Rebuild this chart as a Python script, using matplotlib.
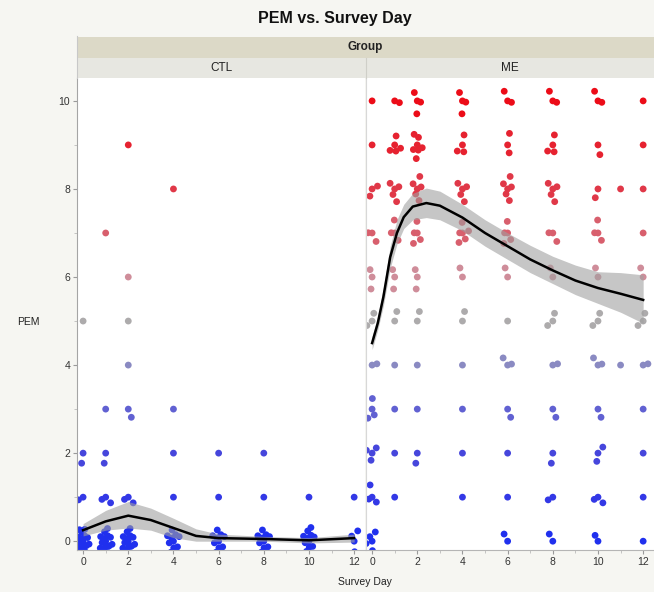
import matplotlib
matplotlib.use('Agg')

import numpy as np
import matplotlib.pyplot as plt
from matplotlib.colors import LinearSegmentedColormap
from matplotlib.patches import Rectangle
from matplotlib.lines import Line2D

plt.rcParams['font.family'] = ['Liberation Sans', 'DejaVu Sans']

# --- data ----------------------------------------------------------------
pem_levels = [0, 1, 2, 3, 4, 5, 6, 7, 8, 9, 10]

# counts of responses per survey day, one column per PEM level 0..10
ctl_days = [0, 1, 2, 4, 6, 8, 10, 12]
ctl_counts = [
    [16, 2, 2, 0, 0, 1, 0, 0, 0, 0, 0],
    [14, 3, 2, 1, 0, 0, 0, 1, 0, 0, 0],
    [14, 3, 0, 2, 1, 1, 1, 0, 0, 1, 0],
    [10, 1, 1, 1, 0, 0, 0, 0, 1, 0, 0],
    [10, 1, 1, 0, 0, 0, 0, 0, 0, 0, 0],
    [10, 1, 1, 0, 0, 0, 0, 0, 0, 0, 0],
    [12, 1, 0, 0, 0, 0, 0, 0, 0, 0, 0],
    [4, 1, 0, 0, 0, 0, 0, 0, 0, 0, 0],
]

me_days = [0, 1, 2, 4, 6, 8, 10, 11, 12]
me_counts = [
    [5, 4, 4, 4, 2, 3, 3, 3, 3, 1, 1],
    [0, 1, 1, 1, 1, 2, 3, 4, 5, 5, 2],
    [0, 0, 2, 1, 1, 2, 3, 5, 6, 7, 4],
    [0, 1, 1, 1, 1, 2, 2, 6, 5, 4, 4],
    [2, 1, 1, 2, 3, 1, 2, 5, 6, 3, 3],
    [2, 2, 2, 2, 2, 3, 2, 3, 5, 4, 3],
    [3, 3, 3, 2, 3, 3, 2, 4, 2, 2, 3],
    [0, 0, 0, 0, 1, 0, 0, 0, 1, 0, 0],
    [1, 1, 1, 1, 2, 3, 2, 1, 1, 1, 1],
]

# smoother fit and its confidence band
ctl_fit_x = [0, 1, 2, 3, 4, 5, 6, 8, 10, 12]
ctl_fit_y = [0.25, 0.45, 0.58, 0.48, 0.30, 0.12, 0.07, 0.05, 0.02, 0.07]
ctl_fit_lo = [0.12, 0.25, 0.30, 0.25, 0.08, 0.00, 0.00, 0.00, -0.04, -0.02]
ctl_fit_hi = [0.40, 0.70, 0.90, 0.75, 0.52, 0.28, 0.16, 0.11, 0.08, 0.16]

me_fit_x = [0, 0.25, 0.5, 0.8, 1.1, 1.4, 1.8, 2.4, 3, 4, 5, 6, 7, 8, 9, 10, 11, 12]
me_fit_y = [4.5, 4.95, 5.55, 6.45, 7.0, 7.36, 7.6, 7.68, 7.62, 7.35, 7.0,
            6.7, 6.4, 6.15, 5.92, 5.75, 5.62, 5.48]
me_fit_lo = [4.35, 4.8, 5.35, 6.2, 6.75, 7.1, 7.3, 7.35, 7.3, 7.05, 6.7,
             6.4, 6.1, 5.85, 5.6, 5.4, 5.2, 4.95]
me_fit_hi = [4.65, 5.1, 5.75, 6.7, 7.3, 7.65, 7.9, 8.02, 7.95, 7.65, 7.3,
             7.0, 6.72, 6.47, 6.27, 6.12, 6.1, 6.05]

# --- figure ---------------------------------------------------------------
W, H = 654, 592
fig = plt.figure(figsize=(W / 100, H / 100), dpi=100)
fig.patch.set_facecolor('#f6f6f2')

# JMP-like blue - gray - red gradient
pem_cmap = LinearSegmentedColormap.from_list('pem', [
    (0.0, '#2030ee'), (0.1, '#3338e6'), (0.2, '#4646dc'), (0.3, '#6262d2'),
    (0.4, '#8a8ac2'), (0.5, '#acacac'), (0.6, '#cf8d9a'), (0.7, '#d8606e'),
    (0.8, '#e03848'), (1.0, '#ec0c18')])


def px_box(x0, y0, x1, y1):
    # pixel box (top-left origin) -> figure fraction rect
    return [x0 / W, 1 - y1 / H, (x1 - x0) / W, (y1 - y0) / H]


def jitter_points(days, counts):
    xs, ys, cs = [], [], []
    golden = np.pi * (3 - np.sqrt(5))
    for day, row in zip(days, counts):
        for pem, n in zip(pem_levels, row):
            for i in range(n):
                r = np.sqrt(i / max(n, 1))
                th = i * golden + pem
                xs.append(day + 0.30 * r * np.cos(th))
                ys.append(pem + 0.34 * r * np.sin(th))
                cs.append(pem)
    return xs, ys, cs


def draw_panel(ax, days, counts, fx, fy, flo, fhi, show_y):
    ax.set_facecolor('white')
    xs, ys, cs = jitter_points(days, counts)
    ax.scatter(xs, ys, c=cs, cmap=pem_cmap, vmin=0, vmax=10, s=24,
               linewidths=0, zorder=2)
    ax.fill_between(fx, flo, fhi, color='#a0a0a0', alpha=0.6, lw=0, zorder=3)
    ax.plot(fx, fy, color='black', lw=1.8, zorder=4)

    ax.set_xlim(-0.27, 12.48)
    ax.set_ylim(-0.2, 10.52)
    ax.set_xticks(range(0, 13, 2))
    ax.set_xticks(range(1, 13, 2), minor=True)
    ax.set_yticks(range(0, 11, 2))
    ax.set_yticks(range(1, 11, 2), minor=True)
    ax.tick_params(axis='both', which='major', length=3, color='#9a9a9a',
                   labelsize=7.5, labelcolor='#333333', pad=2)
    ax.tick_params(axis='both', which='minor', length=2, color='#bbbbbb')
    for s in ['top', 'right']:
        ax.spines[s].set_visible(False)
    ax.spines['bottom'].set_color('#b5b5b5')
    if show_y:
        ax.spines['left'].set_color('#a5a5a5')
    else:
        ax.spines['left'].set_color('#d8d8d8')
        ax.tick_params(axis='y', which='both', left=False, labelleft=False)


ax_ctl = fig.add_axes(px_box(77, 78, 365, 550))
ax_me = fig.add_axes(px_box(366, 78, 654, 550))
draw_panel(ax_ctl, ctl_days, ctl_counts, ctl_fit_x, ctl_fit_y,
           ctl_fit_lo, ctl_fit_hi, True)
draw_panel(ax_me, me_days, me_counts, me_fit_x, me_fit_y,
           me_fit_lo, me_fit_hi, False)

# header strips
fig.patches.append(Rectangle((77 / W, 1 - 58 / H), (W - 77) / W, 21 / H,
                             transform=fig.transFigure, facecolor='#dcd9c7',
                             edgecolor='none'))
fig.patches.append(Rectangle((77 / W, 1 - 78 / H), (W - 77) / W, 20 / H,
                             transform=fig.transFigure, facecolor='#e7e7e1',
                             edgecolor='none'))
fig.lines.append(Line2D([365.5 / W, 365.5 / W], [1 - 78 / H, 1 - 58 / H],
                        transform=fig.transFigure, color='#cfcfc8', lw=0.8))
fig.lines.append(Line2D([76.5 / W, 76.5 / W], [1 - 78 / H, 1 - 36 / H],
                        transform=fig.transFigure, color='#c8c8c8', lw=0.8))

fig.text(0.5 * (77 + W) / W, 1 - 47 / H, 'Group', ha='center', va='center',
         fontsize=8.5, fontweight='bold', color='#222222')
fig.text(221 / W, 1 - 68 / H, 'CTL', ha='center', va='center',
         fontsize=8.5, color='#222222')
fig.text(510 / W, 1 - 68 / H, 'ME', ha='center', va='center',
         fontsize=8.5, color='#222222')
fig.text(335 / W, 1 - 18 / H, 'PEM vs. Survey Day', ha='center', va='center',
         fontsize=11.5, fontweight='bold', color='#111111')
fig.text(28 / W, 1 - 322 / H, 'PEM', ha='center', va='center',
         fontsize=7.5, color='#222222')
fig.text(365 / W, 1 - 582 / H, 'Survey Day', ha='center', va='center',
         fontsize=7.5, color='#222222')

fig.savefig('out.png', dpi=100, facecolor=fig.get_facecolor())
plt.close(fig)
